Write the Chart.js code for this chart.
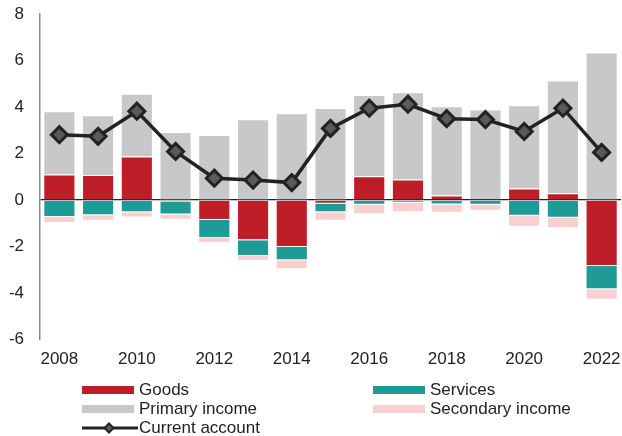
<!DOCTYPE html>
<html>
<head>
<meta charset="utf-8">
<script src="https://cdn.jsdelivr.net/npm/chart.js@4/dist/chart.umd.min.js"></script>
<style>
    html, body { margin: 0; padding: 0; background: #fff; }
    #wrap { position: relative; width: 622px; height: 436px; }
    #balanceChart { position: absolute; left: 0; top: 0; }
    .legend-item {
        position: absolute;
        height: 19px;
        line-height: 19px;
        font-family: "Liberation Sans", Arial, sans-serif;
        font-size: 17px;
        color: #222;
        white-space: nowrap;
    }
    .legend-item .swatch {
        position: absolute;
        left: 0;
        top: 6px;
        width: 52px;
        height: 8px;
    }
    .legend-item svg { position: absolute; left: 0; top: 0; }
    .legend-item span.label { position: absolute; left: 57px; top: 0; }
</style>
</head>
<body>
<div id="wrap">
    <canvas id="balanceChart" width="622" height="436"></canvas>
    <div id="legend"></div>
</div>
<script>
const YEARS = [
    '2008', '2009', '2010', '2011', '2012', '2013', '2014', '2015',
    '2016', '2017', '2018', '2019', '2020', '2021', '2022'
];

const GOODS = [1.10, 1.08, 1.87, -0.08, -0.86, -1.73, -2.02, -0.16, 1.02, 0.88, 0.20, 0.03, 0.50, 0.29, -2.84];
const SERVICES = [-0.73, -0.65, -0.52, -0.54, -0.77, -0.68, -0.57, -0.36, -0.20, -0.12, -0.19, -0.20, -0.68, -0.76, -0.99];
const PRIMARY_INCOME = [2.72, 2.57, 2.70, 2.93, 2.80, 3.47, 3.73, 3.96, 3.50, 3.76, 3.83, 3.86, 3.58, 4.85, 6.34];
const SECONDARY_INCOME = [-0.26, -0.24, -0.23, -0.23, -0.21, -0.20, -0.39, -0.37, -0.41, -0.40, -0.36, -0.26, -0.47, -0.45, -0.46];
const CURRENT_ACCOUNT = [2.81, 2.74, 3.82, 2.09, 0.94, 0.86, 0.75, 3.08, 3.95, 4.12, 3.50, 3.46, 2.95, 3.95, 2.05];

const Y_TICKS = [-6, -4, -2, 0, 2, 4, 6, 8];

const COLOR_GOODS     = '#BE1E27';
const COLOR_SERVICES  = '#1E9B97';
const COLOR_PRIMARY   = '#C7C8CA';
const COLOR_SECONDARY = '#F9D0D1';
const COLOR_LINE      = '#222222';
const COLOR_MARKER    = '#5a5a5a';
const TEXT_COLOR      = '#222222';
const FONT_FAMILY     = '"Liberation Sans", Arial, sans-serif';

function barSet(label, data, color) {
    return {
        type: 'bar',
        label: label,
        data: data,
        backgroundColor: color,
        borderColor: 'rgba(255,255,255,0.45)',
        borderWidth: 1,
        barPercentage: 0.83,
        categoryPercentage: 1,
        order: 2
    };
}

function buildLegend() {
    const items = [
        { text: 'Goods', color: COLOR_GOODS, left: 82, top: 380 },
        { text: 'Services', color: COLOR_SERVICES, left: 373, top: 380 },
        { text: 'Primary income', color: COLOR_PRIMARY, left: 82, top: 399 },
        { text: 'Secondary income', color: COLOR_SECONDARY, left: 373, top: 399 },
        { text: 'Current account', line: true, left: 82, top: 418 }
    ];

    const box = document.getElementById('legend');

    items.forEach(item => {
        let el = document.createElement('div');
        el.className = 'legend-item';
        el.style.left = item.left + 'px';
        el.style.top = item.top + 'px';

        if (item.line) {
            el.innerHTML =
                '<svg width="56" height="19">' +
                '<line x1="0" y1="10" x2="56" y2="10" stroke="' + COLOR_LINE + '" stroke-width="3"/>' +
                '<polygon points="27,5.5 31.5,10 27,14.5 22.5,10" fill="' + COLOR_MARKER + '" stroke="' + COLOR_LINE + '" stroke-width="2"/>' +
                '</svg>';
        } else {
            el.innerHTML = '<div class="swatch" style="background:' + item.color + '"></div>';
        }

        let label = document.createElement('span');
        label.className = 'label';
        label.textContent = item.text;
        el.appendChild(label);
        box.appendChild(el);
    });
}

const chartData = {
    labels: YEARS,
    datasets: [
        {
            type: 'line',
            label: 'Current account',
            data: CURRENT_ACCOUNT,
            borderColor: COLOR_LINE,
            borderWidth: 3.5,
            pointStyle: 'rectRot',
            pointRadius: 8,
            pointBorderWidth: 3,
            pointBorderColor: COLOR_LINE,
            pointBackgroundColor: COLOR_MARKER,
            tension: 0,
            order: 0
        },
        barSet('Goods', GOODS, COLOR_GOODS),
        barSet('Services', SERVICES, COLOR_SERVICES),
        barSet('Primary income', PRIMARY_INCOME, COLOR_PRIMARY),
        barSet('Secondary income', SECONDARY_INCOME, COLOR_SECONDARY)
    ]
};

new Chart(document.getElementById('balanceChart'), {
    data: chartData,
    options: {
        responsive: false,
        animation: false,
        layout: {
            autoPadding: false,
            padding: { top: 14, right: 1, left: 0, bottom: 56 }
        },
        plugins: {
            legend: { display: false },
            tooltip: { enabled: false }
        },
        scales: {
            x: {
                stacked: true,
                grid: { display: false, drawTicks: false },
                border: { display: false },
                afterFit: function (scale) {
                    scale.paddingLeft = 0;
                    scale.paddingRight = 0;
                },
                ticks: {
                    autoSkip: false,
                    maxRotation: 0,
                    padding: 10,
                    color: TEXT_COLOR,
                    font: { family: FONT_FAMILY, size: 17 },
                    callback: function (value, index) {
                        return index % 2 === 0 ? YEARS[index] : '';
                    }
                }
            },
            y: {
                stacked: true,
                min: Y_TICKS[0],
                max: Y_TICKS[Y_TICKS.length - 1],
                afterBuildTicks: function (scale) {
                    scale.ticks = Y_TICKS.map(v => ({ value: v }));
                },
                afterFit: function (scale) {
                    scale.width = 40;
                    scale.paddingTop = 0;
                    scale.paddingBottom = 0;
                },
                grid: {
                    drawTicks: false,
                    lineWidth: 1.2,
                    color: ctx => ctx.tick && ctx.tick.value === 0 ? '#222' : 'rgba(0,0,0,0)'
                },
                border: { display: true, color: '#8a8a8a', width: 1.5 },
                ticks: {
                    padding: 16,
                    color: TEXT_COLOR,
                    font: { family: FONT_FAMILY, size: 17 }
                }
            }
        }
    }
});

buildLegend();
</script>
</body>
</html>
